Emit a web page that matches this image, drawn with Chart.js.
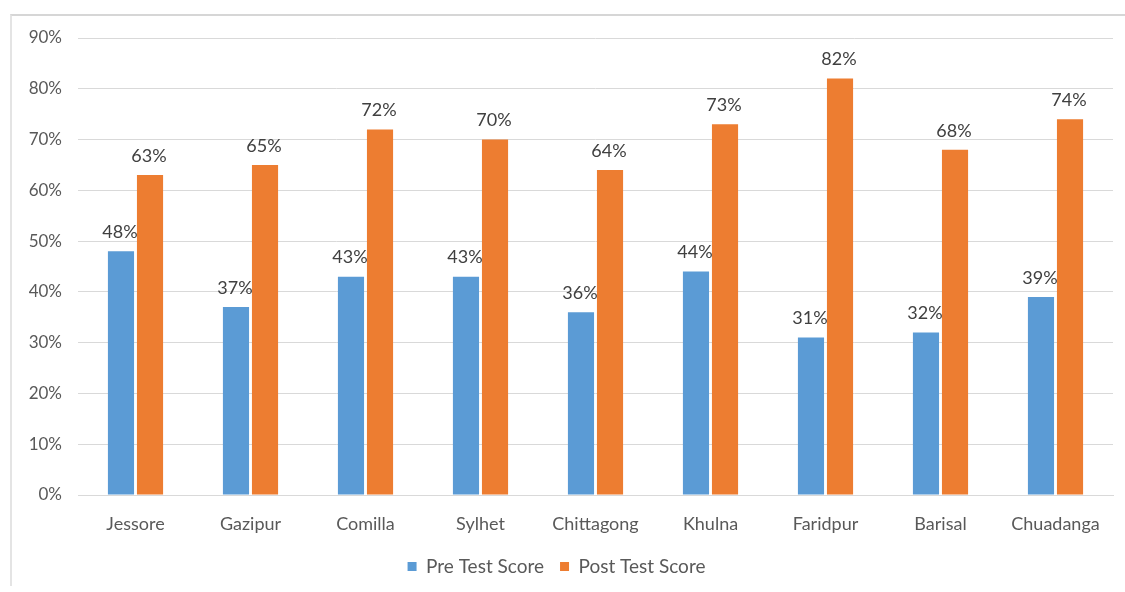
<!DOCTYPE html>
<html>
<head>
<meta charset="utf-8">
<script src="https://cdn.jsdelivr.net/npm/chart.js@4"></script>
<style>
  html, body { margin: 0; padding: 0; background: #fff; }
  #wrap { position: relative; width: 1125px; height: 592px; }
  #frame { position: absolute; left: 10px; top: 14px; width: 1115px; height: 572px;
           border-top: 2px solid #d6d6d6; border-left: 2px solid #e4e4e4; box-sizing: border-box; }
  canvas { position: absolute; left: 0; top: 0; }
</style>
</head>
<body>
<div id="wrap">
  <div id="frame"></div>
  <canvas id="scores" width="1125" height="592"></canvas>
</div>
<script>
// data
const districts = ['Jessore', 'Gazipur', 'Comilla', 'Sylhet', 'Chittagong', 'Khulna', 'Faridpur', 'Barisal', 'Chuadanga'];
const preTest = [48, 37, 43, 43, 36, 44, 31, 32, 39];
const postTest = [63, 65, 72, 70, 64, 73, 82, 68, 74];
const yTicks = [0, 10, 20, 30, 40, 50, 60, 70, 80, 90];

const fontFam = 'Lato, "Open Sans", sans-serif';
const textColor = '#595959';

// simple value labels on top of bars (no datalabels plugin offline)
const barLabels = {
    id: 'barLabels',
    afterDatasetsDraw(chart) {
        let ctx = chart.ctx;
        ctx.save();
        ctx.font = '18px ' + fontFam;
        ctx.fillStyle = '#404040';
        ctx.textAlign = 'center';
        ctx.textBaseline = 'bottom';
        chart.data.datasets.forEach(function(ds, i) {
            chart.getDatasetMeta(i).data.forEach(function(bar, j) {
                ctx.fillText(ds.data[j] + '%', bar.x - 1, bar.y - 10);
            });
        });
        ctx.restore();
    }
};

let data_scores = {
    labels: districts,
    datasets: [
        {
            label: 'Pre Test Score',
            data: preTest,
            backgroundColor: '#5B9BD5',
            categoryPercentage: 0.505,
            barPercentage: 0.9
        },
        {
            label: 'Post Test Score',
            data: postTest,
            backgroundColor: '#ED7D31',
            categoryPercentage: 0.505,
            barPercentage: 0.9
        }
    ]
};

let config_scores = {
    type: 'bar',
    data: data_scores,
    plugins: [barLabels],
    options: {
        responsive: false,
        animation: false,
        layout: { padding: { top: 38, right: 12, left: 0, bottom: 6 } },
        plugins: {
            legend: {
                position: 'bottom',
                labels: {
                    color: textColor,
                    font: { family: fontFam, size: 19 },
                    boxWidth: 9,
                    boxHeight: 9,
                    padding: 16
                }
            },
            tooltip: { enabled: false }
        },
        scales: {
            x: {
                grid: { display: false },
                border: { color: '#d9d9d9' },
                ticks: {
                    color: textColor,
                    font: { family: fontFam, size: 18 },
                    padding: 10
                },
                afterFit(scale) { scale.height = 46; }
            },
            y: {
                min: 0,
                max: 90,
                afterBuildTicks(scale) {
                    scale.ticks = yTicks.map(v => ({ value: v }));
                },
                grid: { color: '#d9d9d9', drawTicks: false },
                border: { display: false },
                ticks: {
                    color: textColor,
                    font: { family: fontFam, size: 17 },
                    padding: 16,
                    callback: v => v + '%'
                },
                afterFit(scale) { scale.width = 78; }
            }
        }
    }
};

let scores_chart = new Chart(document.getElementById('scores'), config_scores);
</script>
</body>
</html>
